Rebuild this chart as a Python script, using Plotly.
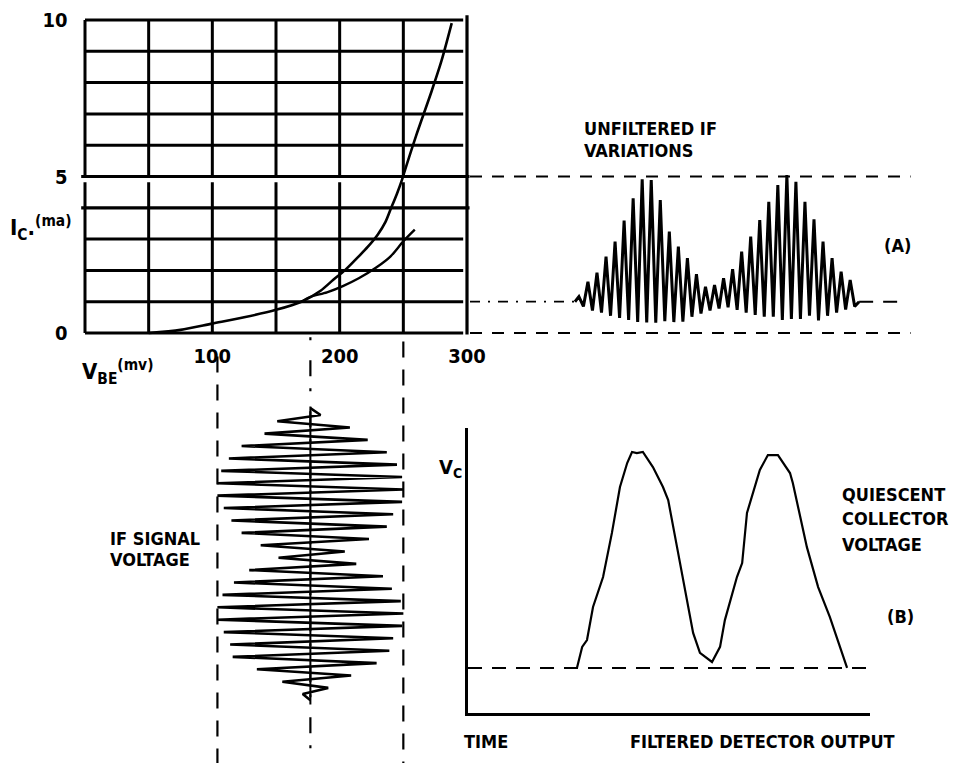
import plotly.graph_objects as go

W, H = 965, 763
FONT = "Liberation Sans Narrow, DejaVu Sans Condensed, Arial Narrow, sans-serif"

# ---------------- data: transistor transfer characteristic (top-left)
vbe_grid = [0, 50, 100, 150, 200, 250, 300]            # mV
ic_grid = [0, 1, 2, 3, 4, 5, 6, 7, 8, 9, 10]            # ma
vbe_ticks = [100, 200, 300]
vbe_ticktext = ["100", "200", "300"]
ic_ticks = [0, 5, 10]
ic_ticktext = ["0", "5", "10"]

curve_a_vbe = [50, 75, 100, 125, 150, 170, 185, 195, 204, 215, 222, 230, 236, 240, 245, 249, 250.5, 260, 272, 280, 288]
curve_a_ic = [0, 0.1, 0.3, 0.5, 0.74, 1.0, 1.35, 1.7, 2.0, 2.45, 2.75, 3.15, 3.55, 3.95, 4.45, 4.9, 5.1, 6.3, 7.7, 8.7, 9.9]
curve_b_vbe = [170, 176.6, 190, 202.5, 215, 229, 240, 250, 259]
curve_b_ic = [1.0, 1.15, 1.3, 1.5, 1.75, 2.1, 2.45, 2.93, 3.3]

# ---------------- data: unfiltered IF collector current (top-right), ma
if_quiescent = 1.0
if_top = 5.0
if_bottom = 0.0
if_peaks = [1.16, 1.64, 1.93, 2.44, 2.92, 3.59, 4.30, 4.91, 4.89, 4.25, 3.24, 2.76, 2.39, 1.88, 1.48, 1.53,
            1.75, 2.04, 2.60, 3.08, 3.61, 4.19, 4.73, 5.05, 4.83, 4.19, 3.63, 2.92, 2.39, 1.96, 1.69]
if_troughs = [0.85, 0.72, 0.65, 0.55, 0.48, 0.42, 0.35, 0.34, 0.33, 0.38, 0.35, 0.36, 0.52, 0.62, 0.72, 0.78,
              0.82, 0.74, 0.65, 0.58, 0.52, 0.52, 0.42, 0.45, 0.45, 0.55, 0.40, 0.55, 0.65, 0.75, 0.85]

# ---------------- data: IF signal voltage (bottom-left), mV about bias
sig_bias = 177
sig_env = [8, 26, 31, 36, 45, 54, 60, 64, 68, 70, 72, 73, 73, 73, 72, 68, 65, 62, 60, 54, 46, 39, 27,
           25, 36, 48, 57, 60, 64, 69, 71, 73, 73, 73, 72, 68, 65, 63, 62, 61, 52, 42, 32, 22, 14, 6]
sig_peak = 73

# ---------------- data: filtered detector output (bottom-right)
vc_time = [27.1, 28.4, 29.6, 31.1, 33.6, 35.8, 37.8, 39.6, 40.8, 42.0, 43.5, 46.0, 48.5, 49.8, 52.0, 54.5,
           56.0, 57.7, 59.2, 60.7, 62.7, 63.9, 66.9, 68.2, 69.4, 72.6, 74.6, 77.1, 80.1, 80.8, 84.3, 87.1,
           90.0, 91.3, 94.3]
vc_level = [15.8, 23.2, 25.6, 37.2, 47.7, 63.2, 79.3, 87.7, 91.6, 91.2, 91.6, 86.3, 79.3, 74.7, 58.2, 39.6,
            28.1, 21.1, 19.6, 17.9, 23.2, 32.6, 47.7, 52.6, 70.2, 85.3, 90.5, 90.5, 84.2, 80.7, 58.2, 44.2,
            33.7, 28.1, 15.8]
vc_quiescent = 15.8


def px(xp):
    return xp / W


def py(yp):
    return 1 - yp / H


fig = go.Figure()

# ---- top-left curves
fig.add_trace(go.Scatter(x=curve_a_vbe, y=curve_a_ic, mode="lines",
                         line=dict(color="black", width=2.6, shape="spline", smoothing=0.8),
                         xaxis="x", yaxis="y", hoverinfo="skip"))
fig.add_trace(go.Scatter(x=curve_b_vbe, y=curve_b_ic, mode="lines",
                         line=dict(color="black", width=2.4, shape="spline", smoothing=0.8),
                         xaxis="x", yaxis="y", hoverinfo="skip"))

shapes = []
for v in vbe_grid:
    if v == vbe_grid[-1]:
        shapes.append(dict(type="line", xref="x", yref="y", x0=v, x1=v, y0=-0.05, y1=10.15,
                           line=dict(color="black", width=3.2)))
    else:
        shapes.append(dict(type="line", xref="x", yref="y", x0=v, x1=v, y0=0, y1=4.82,
                           line=dict(color="black", width=3)))
        shapes.append(dict(type="line", xref="x", yref="y", x0=v, x1=v, y0=5, y1=10,
                           line=dict(color="black", width=3)))
for i in ic_grid:
    if i in (4, 5):
        shapes.append(dict(type="line", xref="x", yref="y", x0=-3, x1=302, y0=i, y1=i,
                           line=dict(color="black", width=3.2)))
    else:
        shapes.append(dict(type="line", xref="x", yref="y", x0=0, x1=297, y0=i, y1=i,
                           line=dict(color="black", width=3)))
for s in shapes:
    s["layer"] = "below"

# ---- top-right unfiltered IF
t0, dt = 22.0, (76.8 - 22.0) / (len(if_peaks) - 1)
ifx, ify = [t0 - 0.8], [if_quiescent]
for k, (p, q) in enumerate(zip(if_peaks, if_troughs)):
    ifx += [t0 + k * dt, t0 + (k + 0.5) * dt]
    ify += [p, q]
ifx.append(t0 + (len(if_peaks) - 0.5) * dt + 0.9)
ify.append(if_quiescent)
fig.add_trace(go.Scatter(x=ifx, y=ify, mode="lines", line=dict(color="black", width=3),
                         xaxis="x2", yaxis="y2", hoverinfo="skip"))
fig.add_trace(go.Scatter(x=[0, 89], y=[if_top, if_top], mode="lines",
                         line=dict(color="black", width=2, dash="12px,10px"), xaxis="x2", yaxis="y2", hoverinfo="skip"))
fig.add_trace(go.Scatter(x=[0, 89], y=[if_bottom, if_bottom], mode="lines",
                         line=dict(color="black", width=2, dash="12px,10px"), xaxis="x2", yaxis="y2", hoverinfo="skip"))
fig.add_trace(go.Scatter(x=[0, t0 - 0.8], y=[if_quiescent, if_quiescent], mode="lines",
                         line=dict(color="black", width=1.8, dash="10px,8px,2px,8px"), xaxis="x2", yaxis="y2", hoverinfo="skip"))
fig.add_trace(go.Scatter(x=[ifx[-1], 88], y=[if_quiescent, if_quiescent], mode="lines",
                         line=dict(color="black", width=2, dash="14px,10px"), xaxis="x2", yaxis="y2", hoverinfo="skip"))

# ---- bottom-left IF signal voltage
st0, sdt = 18.7, 1.449
sx, sy = [sig_bias], [st0 - 1.6]
for k, e in enumerate(sig_env):
    sign = 1 if k % 2 == 0 else -1
    sx.append(sig_bias + sign * e)
    sy.append(st0 + k * sdt)
sx.append(sig_bias)
sy.append(st0 + len(sig_env) * sdt)
fig.add_trace(go.Scatter(x=sx, y=sy, mode="lines", line=dict(color="black", width=2.6),
                         xaxis="x3", yaxis="y3", hoverinfo="skip"))
fig.add_trace(go.Scatter(x=[sig_bias - sig_peak] * 2, y=[5, 100], mode="lines",
                         line=dict(color="black", width=2.2, dash="16px,12px"), xaxis="x3", yaxis="y3", hoverinfo="skip"))
fig.add_trace(go.Scatter(x=[sig_bias + sig_peak] * 2, y=[1.5, 100], mode="lines",
                         line=dict(color="black", width=2.2, dash="16px,12px"), xaxis="x3", yaxis="y3", hoverinfo="skip"))
fig.add_trace(go.Scatter(x=[sig_bias] * 2, y=[0.5, 100], mode="lines",
                         line=dict(color="black", width=2.2, dash="3px,20px,16px,12px"), xaxis="x3", yaxis="y3", hoverinfo="skip"))
fig.add_trace(go.Scatter(x=[sig_bias] * 2, y=[st0 - 2, sy[-1] + 1], mode="lines",
                         line=dict(color="black", width=2), xaxis="x3", yaxis="y3", hoverinfo="skip"))

# ---- bottom-right filtered detector output
fig.add_trace(go.Scatter(x=vc_time, y=vc_level, mode="lines", line=dict(color="black", width=2.2),
                         xaxis="x4", yaxis="y4", hoverinfo="skip"))
fig.add_trace(go.Scatter(x=[0, 100.5], y=[vc_quiescent, vc_quiescent], mode="lines",
                         line=dict(color="black", width=2, dash="14px,10px"), xaxis="x4", yaxis="y4", hoverinfo="skip"))

# ---- axes
xa_px0, xa_px1 = 85, 467     # 0 .. 300 mV
ya_px0, ya_px1 = 333, 20     # 0 .. 10 ma
sx_ = (xa_px1 - xa_px0) / 300.0
sy_ = (ya_px0 - ya_px1) / 10.0
xr = [-5, 305]
yr = [-0.3, 10.3]
x_dom = [px(xa_px0 + xr[0] * sx_), px(xa_px0 + xr[1] * sx_)]
y_dom = [py(ya_px0 - yr[0] * sy_), py(ya_px0 - yr[1] * sy_)]

hidden = dict(showgrid=False, zeroline=False, showline=False, showticklabels=False, ticks="",
              fixedrange=True, automargin=False)

tickfont = dict(family=FONT, size=20, color="black", weight="bold")
fig.update_layout(
    template="none",
    width=W, height=H, autosize=False,
    margin=dict(l=0, r=0, t=0, b=0, pad=0),
    paper_bgcolor="white", plot_bgcolor="rgba(0,0,0,0)",
    showlegend=False,
    font=dict(family=FONT, color="black"),
    xaxis=dict(domain=x_dom, range=xr, anchor="y", showgrid=False, zeroline=False, showline=False,
               tickmode="array", tickvals=vbe_ticks, ticktext=vbe_ticktext, ticks="", tickfont=tickfont,
               ticklabelstandoff=0, fixedrange=True, automargin=False),
    yaxis=dict(domain=y_dom, range=yr, anchor="x", showgrid=False, zeroline=False, showline=False,
               tickmode="array", tickvals=ic_ticks, ticktext=ic_ticktext, ticks="", tickfont=tickfont,
               ticklabelstandoff=10, fixedrange=True, automargin=False),
    xaxis2=dict(domain=[px(470), 1.0], range=[0, 100], anchor="y2", **hidden),
    yaxis2=dict(domain=y_dom, range=yr, anchor="x2", **hidden),
    xaxis3=dict(domain=x_dom, range=xr, anchor="y3", **hidden),
    yaxis3=dict(domain=[0, py(335)], range=[100, 0], anchor="x3", **hidden),
    xaxis4=dict(domain=[px(468), px(870)], range=[0, 100], anchor="y4", showgrid=False, zeroline=False,
                showline=True, linecolor="black", linewidth=3, showticklabels=False, ticks="",
                fixedrange=True, automargin=False),
    yaxis4=dict(domain=[py(713), py(428)], range=[0, 100], anchor="x4", showgrid=False, zeroline=False,
                showline=True, linecolor="black", linewidth=3, showticklabels=False, ticks="",
                fixedrange=True, automargin=False),
    shapes=shapes,
)

AF = dict(family=FONT, size=18, color="black", weight="bold")
ann = [
    ("I<sub>C</sub>.<sup>(ma)</sup>", 8, 228, "left", 22),
    ("V<sub>BE</sub><sup>(mv)</sup>", 80, 372, "left", 22),
    ("UNFILTERED IF", 582, 129, "left", 18),
    ("VARIATIONS", 582, 150, "left", 18),
    ("(A)", 897, 245, "center", 18),
    ("IF SIGNAL", 108, 538, "left", 18),
    ("VOLTAGE", 108, 559, "left", 18),
    ("V<sub>C</sub>", 437, 468, "left", 20),
    ("QUIESCENT", 840, 494, "left", 18),
    ("COLLECTOR", 840, 518, "left", 18),
    ("VOLTAGE", 840, 544, "left", 18),
    ("(B)", 900, 616, "center", 18),
    ("TIME", 462, 741, "left", 18),
    ("FILTERED DETECTOR OUTPUT", 762, 741, "center", 18),
]
fig.update_layout(annotations=[
    dict(text=t, x=px(x), y=py(y), xref="paper", yref="paper", xanchor=a, yanchor="middle",
         showarrow=False, font=dict(AF, size=s))
    for t, x, y, a, s in ann
])

fig.write_html("out.html", config={"displayModeBar": False, "staticPlot": True},
               post_script="document.body.style.margin='0';document.body.style.overflow='hidden';")
